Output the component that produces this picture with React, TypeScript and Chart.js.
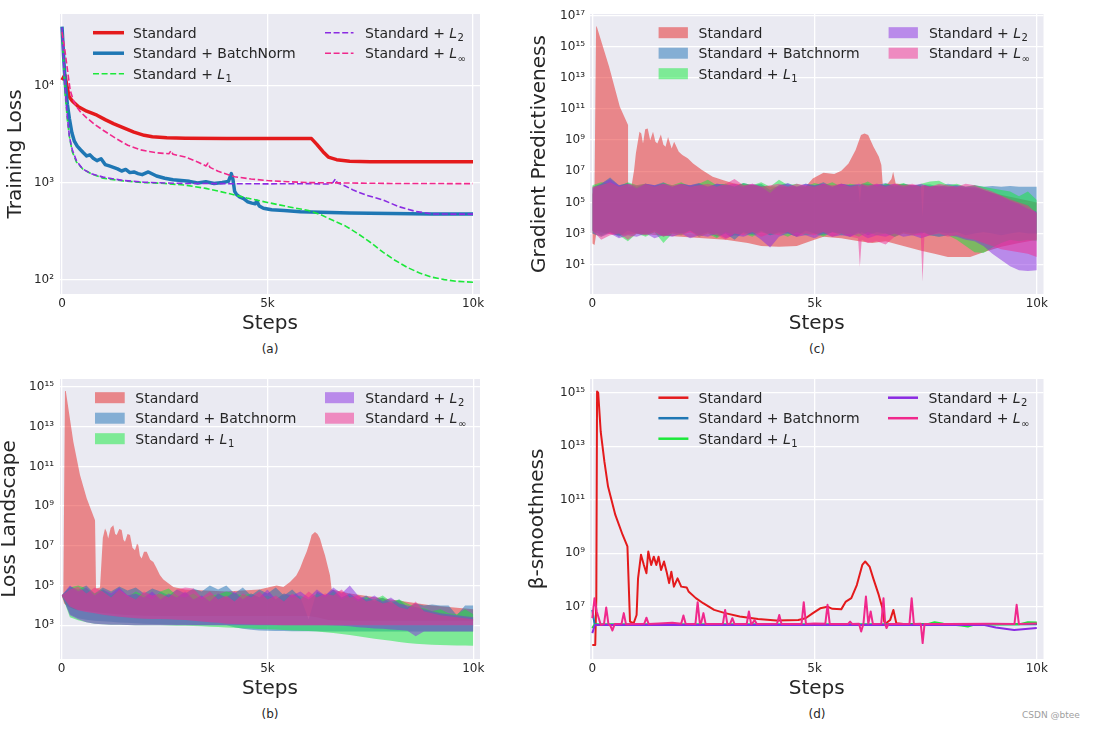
import React, { useEffect, useRef } from 'react';
import { Chart, registerables } from 'chart.js';

Chart.register(...registerables);

const FONT = '"DejaVu Sans", "Liberation Sans", sans-serif';
const INK = '#262626';

// ---------------- shared categories / styling ----------------
const xTickValues = [0, 5000, 10000];
const xTickLabels = ['0', '5k', '10k'];
const lossLabels = ['Standard', 'Standard + BatchNorm', 'Standard + L_1', 'Standard + L_2', 'Standard + L_∞'];
const bandLabels = ['Standard', 'Standard + Batchnorm', 'Standard + L_1', 'Standard + L_2', 'Standard + L_∞'];
const lineColors = ['#E41A1C', '#1F77B4', '#1CE83A', '#8A2BE2', '#F0288C'];
const bandColors = ['rgba(230,34,34,0.5)', 'rgba(30,114,182,0.5)', 'rgba(16,234,58,0.5)', 'rgba(136,42,226,0.5)', 'rgba(242,42,142,0.5)'];

// ---------------- (a) Training loss ----------------
const aStdSteps = [0, 70, 120, 170, 250, 400, 600, 850, 1050, 1250, 1500, 1750, 2000, 2200, 2550, 3000, 4000, 5000, 5800, 6070, 6200, 6350, 6480, 6680, 7000, 7500, 8500, 10000];
const aStdLoss = [11500, 13000, 10000, 7800, 7000, 6100, 5500, 5000, 4500, 4100, 3700, 3350, 3100, 3000, 2930, 2900, 2880, 2880, 2880, 2870, 2500, 2100, 1850, 1740, 1680, 1660, 1660, 1660];
const aBnSteps = [0, 40, 80, 130, 180, 240, 300, 370, 450, 520, 600, 680, 760, 850, 950, 1050, 1150, 1250, 1350, 1450, 1550, 1650, 1750, 1850, 1950, 2100, 2300, 2500, 2700, 2900, 3100, 3300, 3500, 3700, 3900, 4050, 4120, 4160, 4200, 4250, 4320, 4420, 4520, 4620, 4700, 4740, 4800, 4900, 5100, 5400, 5800, 6300, 7000, 8000, 9000, 10000];
const aBnLoss = [41000, 20000, 10500, 6500, 4600, 3300, 2700, 2400, 2200, 2050, 1900, 1950, 1800, 1700, 1780, 1550, 1500, 1450, 1400, 1330, 1380, 1280, 1300, 1250, 1220, 1300, 1180, 1120, 1080, 1060, 1040, 1000, 1030, 990, 1010, 1040, 1250, 1080, 820, 760, 720, 690, 640, 620, 610, 650, 580, 550, 530, 520, 505, 500, 490, 485, 480, 478];
const aL1Steps = [0, 40, 80, 130, 180, 250, 350, 500, 700, 1000, 1500, 2000, 2500, 3000, 3500, 4000, 4500, 5000, 5500, 6000, 6300, 6600, 6900, 7200, 7500, 7800, 8100, 8400, 8700, 9000, 9300, 9600, 10000];
const aL1Loss = [38000, 17000, 8000, 4500, 3000, 2100, 1650, 1400, 1250, 1120, 1050, 1010, 990, 950, 880, 790, 700, 630, 570, 520, 470, 410, 360, 300, 245, 195, 160, 135, 118, 107, 101, 97, 95];
const aL2Steps = [0, 40, 80, 130, 180, 250, 350, 500, 700, 1000, 1500, 2000, 2500, 3000, 4000, 5000, 6000, 6500, 6600, 6650, 6700, 6850, 7100, 7400, 7800, 8200, 8600, 9000, 9500, 10000];
const aL2Loss = [40000, 18000, 9000, 4800, 3000, 2200, 1700, 1400, 1250, 1150, 1060, 1020, 1000, 990, 985, 980, 985, 975, 1020, 1100, 1000, 950, 840, 750, 670, 570, 510, 480, 478, 478];
const aLinfSteps = [0, 60, 120, 200, 280, 370, 450, 600, 800, 1000, 1300, 1600, 1900, 2300, 2600, 2650, 2700, 3000, 3300, 3500, 3550, 3600, 3800, 4200, 4600, 5000, 5500, 6000, 7000, 8000, 10000];
const aLinfLoss = [36000, 25000, 16000, 9000, 7000, 6000, 5400, 4700, 4000, 3500, 2900, 2450, 2200, 2050, 2000, 2150, 1980, 1850, 1650, 1500, 1600, 1450, 1320, 1160, 1100, 1060, 1030, 1010, 1000, 990, 985];

// ---------------- shared step grid for noisy bands ----------------
const gridSteps = [0, 200, 400, 600, 800, 1000, 1200, 1400, 1600, 1800, 2000, 2200, 2400, 2600, 2800, 3000, 3200, 3400, 3600, 3800, 4000, 4200, 4400, 4600, 4800, 5000, 5200, 5400, 5600, 5800, 6000, 6200, 6400, 6600, 6800, 7000, 7200, 7400, 7600, 7800, 8000, 8200, 8400, 8600, 8800, 9000, 9200, 9400, 9600, 9800, 10000];

// ---------------- (b) Loss landscape (log10 of value) ----------------
const bStdUpperSteps = [0, 40, 80, 100, 283, 445, 607, 810, 834, 931, 1000, 1053, 1093, 1130, 1190, 1255, 1300, 1336, 1400, 1457, 1500, 1538, 1600, 1660, 1720, 1781, 1830, 1862, 1900, 1943, 2000, 2065, 2150, 2227, 2300, 2389, 2470, 2550, 2713, 3000, 4000, 4800, 5061, 5223, 5385, 5547, 5700, 5789, 5870, 5951, 6030, 6073, 6154, 6215, 6275, 6340, 6397, 6460, 6518, 6559, 7000, 8000, 9000, 10000];
const bStdUpperExp = [4.5, 4.6, 14.8, 14.8, 12.24, 10.56, 9.39, 8.29, 4.85, 4.9, 7.4, 7.87, 7.7, 7.37, 7.9, 8.04, 7.6, 7.54, 7.85, 7.79, 7.3, 7.2, 7.6, 7.54, 6.9, 6.78, 7.1, 7.03, 6.5, 6.36, 6.7, 6.7, 6.3, 6.19, 5.9, 5.52, 5.3, 5.18, 4.93, 4.8, 4.7, 4.8, 4.93, 5.0, 4.93, 5.18, 5.5, 5.86, 6.3, 6.7, 7.2, 7.54, 7.7, 7.6, 7.37, 6.9, 6.53, 6.0, 5.52, 4.8, 4.6, 4.3, 4.0, 3.8];
const bStdLowerSteps = [0, 60, 150, 300, 600, 1000, 1500, 2000, 2500, 6000, 6200, 6480, 7000, 10000];
const bStdLowerExp = [4.5, 4.1, 3.95, 3.8, 3.72, 3.62, 3.53, 3.48, 3.46, 3.46, 3.4, 3.27, 3.22, 3.22];
const bBnUpperExp = [4.5, 4.95, 4.8, 5.0, 4.6, 4.9, 4.7, 4.95, 4.75, 4.9, 4.6, 4.85, 4.7, 4.5, 4.8, 4.6, 4.85, 4.7, 5.0, 4.8, 5.0, 4.6, 4.9, 4.5, 4.8, 4.6, 4.9, 4.5, 4.8, 4.4, 3.3, 4.7, 4.5, 4.8, 4.4, 4.6, 4.3, 4.5, 4.2, 4.4, 4.1, 4.3, 3.9, 4.1, 4.0, 4.05, 4.0, 4.0, 3.5, 4.0, 4.0];
const bBnLowerExp = [4.5, 3.55, 3.35, 3.28, 3.23, 3.2, 3.17, 3.14, 3.12, 3.1, 3.08, 3.06, 3.05, 3.04, 3.03, 3.02, 3.01, 3.0, 3.0, 3.0, 3.0, 2.9, 2.82, 2.77, 2.74, 2.72, 2.71, 2.71, 2.7, 2.7, 2.7, 2.7, 2.69, 2.69, 2.69, 2.69, 2.69, 2.69, 2.69, 2.68, 2.68, 2.68, 2.68, 2.68, 2.68, 2.68, 2.68, 2.68, 2.68, 2.68, 2.68];
const bL1UpperExp = [4.5, 4.9, 5.0, 4.85, 4.6, 4.8, 4.5, 4.75, 4.4, 4.7, 4.5, 4.3, 4.7, 4.85, 4.5, 4.4, 4.6, 4.3, 4.5, 4.55, 4.7, 4.6, 4.5, 4.6, 4.4, 4.5, 4.3, 4.6, 4.4, 4.5, 4.3, 4.6, 4.4, 4.7, 4.3, 4.5, 4.2, 4.4, 4.3, 4.5, 4.2, 4.3, 4.1, 3.9, 3.85, 3.7, 3.8, 3.6, 3.55, 3.8, 3.55];
const bL1LowerExp = [4.55, 3.4, 3.25, 3.15, 3.08, 3.05, 3.03, 3.02, 3.01, 3.0, 3.0, 3.0, 3.0, 2.99, 2.98, 2.97, 2.96, 2.95, 2.93, 2.91, 2.89, 2.87, 2.85, 2.83, 2.81, 2.8, 2.78, 2.76, 2.74, 2.72, 2.71, 2.68, 2.65, 2.61, 2.56, 2.51, 2.44, 2.38, 2.32, 2.27, 2.22, 2.16, 2.11, 2.07, 2.04, 2.02, 2.0, 1.99, 1.98, 1.98, 1.97];
const bL2UpperExp = [4.5, 5.0, 4.7, 4.9, 4.5, 4.8, 4.6, 4.9, 4.5, 4.6, 4.4, 4.7, 4.3, 4.6, 4.4, 4.7, 4.3, 4.5, 4.2, 4.6, 4.4, 4.7, 4.3, 4.6, 4.4, 4.8, 4.3, 4.6, 4.5, 4.7, 4.4, 4.8, 4.5, 4.9, 4.6, 5.0, 4.5, 4.3, 4.5, 4.2, 4.4, 4.1, 4.0, 3.9, 3.8, 3.7, 3.6, 3.55, 3.5, 3.45, 3.4];
const bL2LowerExp = [4.55, 3.5, 3.3, 3.15, 3.08, 3.05, 3.03, 3.02, 3.01, 3.0, 3.0, 3.0, 3.0, 3.0, 3.0, 3.0, 3.0, 3.0, 3.0, 3.0, 3.0, 3.0, 3.0, 3.0, 3.0, 3.0, 3.0, 3.0, 3.0, 3.0, 3.0, 3.0, 3.0, 2.99, 2.98, 2.95, 2.9, 2.87, 2.84, 2.82, 2.79, 2.76, 2.72, 2.45, 2.69, 2.68, 2.68, 2.68, 2.68, 2.68, 2.68];
const bLinfUpperExp = [4.5, 4.8, 4.95, 4.6, 4.9, 4.7, 4.4, 4.8, 4.5, 4.3, 4.7, 4.5, 4.6, 4.4, 4.8, 4.9, 4.85, 4.4, 4.7, 4.3, 4.5, 4.2, 4.6, 4.4, 4.7, 4.3, 4.5, 4.2, 4.6, 4.3, 4.7, 4.4, 4.6, 4.5, 4.8, 4.4, 4.5, 4.2, 4.3, 4.1, 4.2, 3.9, 3.8, 4.2, 3.7, 3.6, 3.5, 3.45, 3.4, 3.35, 3.3];
const bLinfLowerExp = [4.5, 3.95, 3.75, 3.67, 3.6, 3.53, 3.48, 3.43, 3.39, 3.35, 3.33, 3.32, 3.31, 3.3, 3.28, 3.26, 3.22, 3.19, 3.15, 3.12, 3.08, 3.06, 3.05, 3.04, 3.03, 3.02, 3.01, 3.0, 3.0, 3.0, 3.0, 3.0, 3.0, 3.0, 3.0, 3.0, 3.0, 3.0, 3.0, 3.0, 3.0, 3.0, 3.0, 3.0, 3.0, 3.0, 3.0, 3.0, 3.0, 3.0, 3.0];

// ---------------- (c) Gradient predictiveness (log10 of value) ----------------
const cStdUpperSteps = [0, 50, 85, 110, 378, 619, 804, 820, 880, 940, 980, 1061, 1101, 1141, 1190, 1246, 1302, 1366, 1420, 1463, 1543, 1600, 1648, 1704, 1785, 1841, 1945, 2026, 2146, 2267, 2468, 2709, 2950, 3191, 3600, 4200, 4799, 4960, 5201, 5442, 5603, 5764, 5924, 6045, 6125, 6206, 6326, 6447, 6503, 6535, 6648, 6730, 6768, 6825, 7200, 8000, 8700, 9000, 9500, 10000];
const cStdUpperExp = [5.5, 6.0, 16.35, 16.2, 13.72, 11.15, 9.97, 6.0, 6.0, 7.08, 8.15, 9.54, 9.43, 8.79, 9.7, 9.75, 9.0, 9.54, 8.9, 8.79, 9.37, 8.7, 8.58, 9.2, 8.47, 8.9, 8.25, 8.04, 7.83, 7.5, 7.08, 6.65, 6.43, 6.22, 6.1, 6.0, 6.0, 6.54, 6.9, 6.82, 7.03, 7.5, 8.36, 9.33, 9.43, 9.33, 8.58, 7.93, 7.4, 6.11, 6.22, 6.5, 6.97, 6.22, 6.1, 6.0, 5.9, 5.6, 5.3, 5.0];
const cStdLowerSteps = [0, 50, 100, 300, 600, 1000, 1500, 2000, 2500, 3000, 3500, 3800, 4200, 4600, 4900, 5200, 5600, 6000, 6300, 6600, 7000, 7400, 7700, 8000, 8500, 8800, 9200, 9600, 10000];
const cStdLowerExp = [2.37, 2.26, 3.2, 3.0, 2.9, 3.0, 2.9, 2.8, 2.7, 2.6, 2.4, 2.2, 2.15, 2.2, 2.5, 2.8, 2.7, 2.5, 2.4, 2.5, 2.2, 1.9, 1.7, 1.5, 1.5, 1.8, 2.15, 2.4, 2.6];
const cSpikeSteps = [0, 200, 400, 600, 800, 1000, 1200, 1400, 1600, 1800, 2000, 2200, 2400, 2600, 2800, 3000, 3200, 3400, 3600, 3800, 4000, 4200, 4400, 4600, 4800, 5000, 5200, 5400, 5600, 5800, 5980, 6020, 6060, 6200, 6400, 6600, 6800, 7000, 7200, 7390, 7430, 7470, 7600, 7800, 8000, 8200, 8400, 8600, 8800, 9000, 9200, 9400, 9600, 9800, 10000];
const cBnUpperExp = [6.0, 6.2, 6.6, 6.1, 6.25, 6.0, 6.2, 6.1, 6.3, 6.0, 6.2, 6.1, 6.25, 6.0, 6.2, 6.15, 6.0, 6.25, 6.1, 6.2, 5.8, 6.1, 6.25, 6.0, 6.2, 6.1, 6.3, 6.0, 6.2, 6.1, 6.1, 5.0, 6.2, 6.2, 6.1, 6.25, 6.0, 6.2, 6.1, 6.1, 4.1, 6.15, 6.15, 6.0, 6.2, 6.1, 6.0, 6.1, 6.0, 6.05, 6.0, 6.05, 6.0, 6.0, 6.0];
const cBnLowerExp = [3.2, 2.9, 3.1, 2.8, 3.2, 3.0, 2.9, 3.2, 2.8, 3.1, 3.0, 3.2, 2.9, 3.1, 2.8, 3.0, 2.6, 3.1, 2.9, 3.2, 2.9, 3.1, 3.0, 2.8, 3.2, 3.0, 2.9, 3.1, 3.0, 2.8, 3.1, 3.0, 3.1, 2.9, 3.1, 3.0, 2.8, 3.1, 3.0, 3.0, 3.0, 3.1, 2.9, 3.1, 3.0, 3.1, 2.9, 3.0, 3.1, 3.0, 2.9, 3.0, 3.1, 3.0, 3.0];
const cL1UpperExp = [6.1, 6.3, 6.2, 6.0, 6.3, 6.1, 6.2, 6.0, 6.25, 6.1, 6.3, 6.0, 6.2, 6.45, 6.1, 6.2, 6.0, 6.25, 6.1, 6.3, 6.0, 6.45, 6.1, 6.2, 6.0, 6.25, 6.1, 6.3, 6.0, 6.2, 6.1, 6.35, 6.0, 6.2, 6.1, 6.25, 6.0, 6.2, 6.35, 6.4, 6.1, 6.2, 6.0, 6.1, 6.0, 5.9, 5.8, 5.7, 5.4, 5.7, 5.15];
const cL1LowerExp = [3.0, 2.8, 3.1, 2.9, 2.5, 3.0, 2.8, 3.1, 2.4, 3.0, 2.9, 3.2, 2.8, 3.0, 2.7, 3.1, 2.9, 3.0, 2.8, 3.1, 2.9, 3.0, 2.8, 3.1, 2.9, 3.0, 2.8, 3.1, 2.9, 3.0, 2.8, 3.1, 2.9, 3.0, 2.8, 3.0, 2.9, 3.1, 2.9, 2.8, 2.9, 2.6, 2.2, 1.8, 1.75, 2.1, 2.4, 2.6, 2.5, 2.6, 2.5];
const cL2UpperExp = [5.9, 6.2, 6.5, 6.1, 6.2, 5.9, 6.2, 6.1, 6.2, 6.0, 6.2, 6.1, 6.2, 6.0, 6.2, 6.1, 6.2, 6.0, 6.2, 6.0, 5.6, 6.1, 6.2, 6.0, 6.2, 6.1, 6.2, 6.0, 6.2, 6.1, 6.2, 6.0, 6.2, 6.1, 6.2, 6.0, 6.1, 6.2, 6.0, 6.1, 6.0, 6.1, 6.0, 6.0, 5.8, 5.6, 5.4, 5.1, 4.9, 4.6, 4.4];
const cL2LowerExp = [3.0, 2.8, 3.0, 2.7, 2.9, 2.8, 3.0, 2.7, 2.9, 2.8, 3.0, 2.7, 2.9, 2.8, 3.0, 2.7, 2.9, 2.8, 3.0, 2.6, 2.1, 2.8, 3.0, 2.8, 2.9, 2.7, 3.0, 2.8, 2.9, 2.8, 3.0, 2.7, 2.9, 2.8, 3.0, 2.8, 2.9, 2.7, 2.9, 2.8, 2.9, 2.8, 2.6, 2.5, 2.2, 1.7, 1.3, 0.9, 0.65, 0.6, 0.65];
const cLinfUpperExp = [6.0, 6.1, 6.3, 6.0, 6.2, 6.1, 6.2, 6.0, 6.2, 6.1, 6.2, 6.0, 6.1, 6.2, 6.0, 6.2, 6.5, 6.1, 6.2, 6.0, 6.1, 6.2, 6.0, 6.2, 6.1, 6.0, 6.2, 6.1, 6.2, 6.0, 6.1, 6.0, 6.2, 6.1, 6.2, 6.0, 6.2, 6.1, 6.2, 6.0, 6.1, 6.1, 6.0, 6.2, 6.1, 6.0, 6.2, 6.1, 5.9, 5.7, 5.45, 5.2, 5.0, 4.8, 4.3];
const cLinfLowerExp = [3.2, 2.6, 2.9, 3.0, 2.6, 3.0, 2.9, 3.1, 2.8, 3.0, 2.9, 3.1, 2.8, 3.0, 2.9, 2.6, 3.0, 2.9, 3.1, 2.8, 3.0, 2.9, 3.1, 2.8, 3.0, 2.9, 3.1, 2.8, 3.0, 2.8, 2.7, 0.87, 2.6, 2.4, 2.5, 2.3, 2.8, 3.0, 2.9, 2.9, -0.1, 2.8, 2.9, 3.0, 2.8, 2.9, 2.7, 2.6, 2.4, 2.2, 2.0, 1.9, 1.8, 1.7, 1.5];

// ---------------- (d) beta-smoothness (log10 of value) ----------------
const dStdSteps = [0, 66, 90, 107, 132, 189, 272, 354, 518, 683, 790, 848, 930, 996, 1029, 1095, 1160, 1218, 1259, 1325, 1383, 1440, 1490, 1547, 1613, 1671, 1728, 1778, 1835, 1918, 2000, 2123, 2165, 2329, 2494, 2741, 2988, 3317, 3728, 4140, 4634, 4798, 4963, 5128, 5292, 5400, 5600, 5704, 5827, 5951, 6074, 6140, 6238, 6321, 6444, 6527, 6568, 6609, 6700, 6774, 6840, 7000, 10000];
const dStdExp = [5.57, 5.57, 7.32, 15.04, 15.0, 13.54, 12.42, 11.49, 10.43, 9.68, 9.25, 6.44, 6.38, 6.69, 8.06, 8.94, 8.56, 8.25, 9.06, 8.56, 8.87, 8.56, 8.87, 8.37, 8.69, 8.31, 7.88, 8.31, 7.75, 8.06, 7.75, 7.72, 7.57, 7.32, 7.13, 6.88, 6.76, 6.63, 6.54, 6.48, 6.5, 6.57, 6.76, 6.94, 7.0, 6.92, 6.9, 7.19, 7.32, 7.81, 8.56, 8.69, 8.5, 8.06, 7.44, 6.94, 6.44, 6.38, 6.5, 6.88, 6.38, 6.35, 6.35];
const dBnSteps = [0, 50, 150, 5000, 10000];
const dBnExp = [6.88, 6.35, 6.33, 6.33, 6.34];
const dL1Steps = [0, 50, 7500, 7700, 7900, 8300, 8450, 8600, 9600, 9800, 10000];
const dL1Exp = [6.2, 6.33, 6.33, 6.42, 6.36, 6.3, 6.26, 6.33, 6.34, 6.42, 6.41];
const dL2Steps = [0, 60, 8800, 9078, 9490, 10000];
const dL2Exp = [6.01, 6.32, 6.32, 6.22, 6.13, 6.2];
const dLinfSteps = [0, 50, 100, 190, 263, 313, 363, 403, 453, 503, 658, 708, 758, 900, 1168, 1218, 1268, 1500, 1800, 2000, 2050, 2100, 2320, 2370, 2420, 2450, 2500, 2550, 2938, 2988, 3038, 3100, 3150, 3200, 3473, 3523, 3573, 3600, 3650, 3700, 4156, 4206, 4256, 4707, 4757, 4807, 5000, 5242, 5292, 5342, 5750, 5800, 5850, 6000, 6049, 6100, 6156, 6210, 6263, 6313, 6501, 6551, 6590, 6620, 6660, 7135, 7185, 7235, 7390, 7432, 7474, 8000, 9000, 9497, 9547, 9597, 10000];
const dLinfExp = [6.57, 7.32, 6.82, 6.32, 6.35, 6.97, 6.35, 6.3, 6.11, 6.35, 6.36, 6.76, 6.34, 6.35, 6.36, 6.59, 6.35, 6.37, 6.4, 6.36, 6.67, 6.36, 6.35, 7.17, 6.36, 6.4, 6.76, 6.35, 6.36, 6.88, 6.35, 6.36, 6.57, 6.35, 6.35, 6.82, 6.35, 6.37, 6.5, 6.35, 6.36, 6.69, 6.35, 6.35, 7.17, 6.35, 6.37, 6.36, 7.07, 6.35, 6.35, 6.44, 6.35, 6.36, 6.07, 6.36, 7.38, 6.36, 6.82, 6.35, 6.36, 7.32, 6.35, 6.2, 6.35, 6.35, 7.32, 6.35, 6.36, 5.64, 6.35, 6.35, 6.36, 6.35, 7.07, 6.35, 6.37];

// ---------------- helpers ----------------
type Pt = { x: number; y: number };
const toPts = (xs: number[], ys: number[]): Pt[] => xs.map((x, i) => ({ x, y: ys[i] }));
const toPtsExp = (xs: number[], es: number[]): Pt[] => xs.map((x, i) => ({ x, y: Math.pow(10, es[i]) }));

const SUP = '⁰¹²³⁴⁵⁶⁷⁸⁹';
const powLabel = (v: number) => {
  const e = Math.round(Math.log10(v));
  return '10' + String(e).split('').map((c) => (c === '-' ? '⁻' : SUP[Number(c)])).join('');
};

function lineSet(label: string, pts: Pt[], color: string, width: number, dash: number[], order: number) {
  return {
    label, data: pts, borderColor: color, borderWidth: width, borderDash: dash,
    pointRadius: 0, fill: false, order, borderJoinStyle: 'round', borderCapStyle: 'butt', tension: 0,
  };
}
function bandSets(label: string, upper: Pt[], lower: Pt[], color: string, order: number) {
  return [
    { label: label + ' (max)', data: upper, borderWidth: 0, pointRadius: 0, fill: false, order, tension: 0 },
    { label, data: lower, borderWidth: 0, pointRadius: 0, fill: '-1', backgroundColor: color, order, tension: 0 },
  ];
}

function drawLabel(ctx: CanvasRenderingContext2D, label: string, x: number, base: number) {
  ctx.fillStyle = INK;
  ctx.textAlign = 'left';
  ctx.textBaseline = 'alphabetic';
  const idx = label.indexOf('L_');
  const head = idx >= 0 ? label.slice(0, idx) : label;
  ctx.font = `14px ${FONT}`;
  ctx.fillText(head, x, base);
  if (idx < 0) return;
  x += ctx.measureText(head).width;
  ctx.font = `italic 14px ${FONT}`;
  ctx.fillText('L', x, base);
  x += ctx.measureText('L').width + 0.5;
  ctx.font = `10px ${FONT}`;
  ctx.fillText(label.slice(idx + 2), x, base + 3.2);
}

type Entry = { label: string; color: string; kind: 'line' | 'patch'; width?: number; dash?: number[] };
type LegendLayout = { cols: { h0: number; h1: number; tx: number }[]; rows: number[] };

function makeLegend(entries: Entry[], lay: LegendLayout) {
  return {
    id: 'mplLegend',
    afterDatasetsDraw(chart: any) {
      const { ctx, chartArea } = chart;
      ctx.save();
      entries.forEach((e, i) => {
        const col = lay.cols[i < 3 ? 0 : 1];
        const y = chartArea.top + lay.rows[i < 3 ? i : i - 3];
        const x0 = chartArea.left + col.h0;
        const x1 = chartArea.left + col.h1;
        if (e.kind === 'line') {
          ctx.strokeStyle = e.color;
          ctx.lineWidth = e.width || 2;
          ctx.setLineDash(e.dash || []);
          ctx.lineCap = 'butt';
          ctx.beginPath();
          ctx.moveTo(x0, y);
          ctx.lineTo(x1, y);
          ctx.stroke();
          ctx.setLineDash([]);
        } else {
          ctx.fillStyle = e.color;
          ctx.fillRect(x0, y - 5.5, x1 - x0, 11);
        }
        drawLabel(ctx, e.label, chartArea.left + col.tx, y + 5.1);
      });
      ctx.restore();
    },
  };
}

const bgPlugin = {
  id: 'plotBg',
  beforeDraw(chart: any) {
    const { ctx, chartArea } = chart;
    if (!chartArea) return;
    ctx.save();
    ctx.fillStyle = '#EAEAF2';
    ctx.fillRect(chartArea.left, chartArea.top, chartArea.right - chartArea.left, chartArea.bottom - chartArea.top);
    ctx.restore();
  },
};

type PanelCfg = {
  left: number; top: number; w: number; h: number; padRight: number; yAxisWidth: number;
  xMin: number; xMax: number; yExpRange: [number, number]; yTicks: number[];
  yTitle: string; yTitlePad: number; yTickPad: number;
  datasets: any[]; legend: Entry[]; legendLayout: LegendLayout;
};

function buildConfig(cfg: PanelCfg): any {
  return {
    type: 'line',
    data: { datasets: cfg.datasets },
    options: {
      animation: false,
      responsive: false,
      maintainAspectRatio: false,
      events: [],
      layout: { padding: { left: 0, top: 14, right: cfg.padRight, bottom: 0 } },
      plugins: { legend: { display: false }, tooltip: { enabled: false } },
      scales: {
        x: {
          type: 'linear', min: cfg.xMin, max: cfg.xMax,
          afterBuildTicks: (s: any) => { s.ticks = xTickValues.map((v) => ({ value: v })); },
          afterFit: (s: any) => { s.height = 46; },
          ticks: {
            autoSkip: false, maxRotation: 0, padding: 3, color: INK, font: { family: FONT, size: 12 },
            callback: (v: any) => { const i = xTickValues.indexOf(Number(v)); return i >= 0 ? xTickLabels[i] : ''; },
          },
          grid: { color: '#FFFFFF', lineWidth: 1.3, drawTicks: false },
          border: { display: false },
          title: { display: true, text: 'Steps', color: INK, font: { family: FONT, size: 20, lineHeight: 1.2 }, padding: { top: 0, bottom: 4 } },
        },
        y: {
          type: 'logarithmic', min: Math.pow(10, cfg.yExpRange[0]), max: Math.pow(10, cfg.yExpRange[1]),
          afterBuildTicks: (s: any) => { s.ticks = cfg.yTicks.map((v) => ({ value: v })); },
          afterFit: (s: any) => { s.width = cfg.yAxisWidth; },
          ticks: {
            autoSkip: false, padding: cfg.yTickPad, color: INK, font: { family: FONT, size: 12 },
            callback: (v: any) => powLabel(Number(v)),
          },
          grid: { color: '#FFFFFF', lineWidth: 1.3, drawTicks: false },
          border: { display: false },
          title: { display: true, text: cfg.yTitle, color: INK, font: { family: FONT, size: 20, lineHeight: 1 }, padding: { top: cfg.yTitlePad, bottom: 0 } },
        },
      },
    },
    plugins: [bgPlugin, makeLegend(cfg.legend, cfg.legendLayout)],
  };
}

// ---------------- panel definitions ----------------
const legendRows = [18.7, 39.2, 59.7];
const dashed = [6, 2.6];

const panelA: PanelCfg = {
  left: 0, top: 0, w: 520, h: 340, padRight: 40, yAxisWidth: 60,
  xMin: -49, xMax: 10170, yExpRange: [1.856, 4.742], yTicks: [1e2, 1e3, 1e4],
  yTitle: 'Training Loss', yTitlePad: 6, yTickPad: 6,
  datasets: [
    lineSet(lossLabels[0], toPts(aStdSteps, aStdLoss), lineColors[0], 3.5, [], 4),
    lineSet(lossLabels[1], toPts(aBnSteps, aBnLoss), lineColors[1], 3.5, [], 3),
    lineSet(lossLabels[2], toPts(aL1Steps, aL1Loss), lineColors[2], 1.6, dashed, 2),
    lineSet(lossLabels[3], toPts(aL2Steps, aL2Loss), lineColors[3], 1.6, dashed, 1),
    lineSet(lossLabels[4], toPts(aLinfSteps, aLinfLoss), lineColors[4], 1.6, dashed, 0),
  ],
  legend: lossLabels.map((l, i) => ({ label: l, color: lineColors[i], kind: 'line' as const, width: i < 2 ? 3.5 : 1.6, dash: i < 2 ? [] : dashed })),
  legendLayout: { cols: [{ h0: 33, h1: 64, tx: 73 }, { h0: 265, h1: 293.5, tx: 305 }], rows: legendRows },
};

const panelB: PanelCfg = {
  left: 0, top: 365, w: 520, h: 340, padRight: 40, yAxisWidth: 60,
  xMin: -41, xMax: 10163, yExpRange: [1.3, 15.4], yTicks: [1e3, 1e5, 1e7, 1e9, 1e11, 1e13, 1e15],
  yTitle: 'Loss Landscape', yTitlePad: 0, yTickPad: 6,
  datasets: [
    ...bandSets(bandLabels[0], toPtsExp(bStdUpperSteps, bStdUpperExp), toPtsExp(bStdLowerSteps, bStdLowerExp), bandColors[0], 4),
    ...bandSets(bandLabels[1], toPtsExp(gridSteps, bBnUpperExp), toPtsExp(gridSteps, bBnLowerExp), bandColors[1], 3),
    ...bandSets(bandLabels[2], toPtsExp(gridSteps, bL1UpperExp), toPtsExp(gridSteps, bL1LowerExp), bandColors[2], 2),
    ...bandSets(bandLabels[3], toPtsExp(gridSteps, bL2UpperExp), toPtsExp(gridSteps, bL2LowerExp), bandColors[3], 1),
    ...bandSets(bandLabels[4], toPtsExp(gridSteps, bLinfUpperExp), toPtsExp(gridSteps, bLinfLowerExp), bandColors[4], 0),
  ],
  legend: bandLabels.map((l, i) => ({ label: l, color: bandColors[i], kind: 'patch' as const })),
  legendLayout: { cols: [{ h0: 35, h1: 64.7, tx: 75.3 }, { h0: 265, h1: 294, tx: 305.3 }], rows: legendRows },
};

const panelC: PanelCfg = {
  left: 520, top: 0, w: 574, h: 340, padRight: 50.5, yAxisWidth: 70,
  xMin: -52, xMax: 10151, yExpRange: [-0.88, 17.1], yTicks: [1e1, 1e3, 1e5, 1e7, 1e9, 1e11, 1e13, 1e15, 1e17],
  yTitle: 'Gradient Predictiveness', yTitlePad: 10, yTickPad: 5,
  datasets: [
    ...bandSets(bandLabels[0], toPtsExp(cStdUpperSteps, cStdUpperExp), toPtsExp(cStdLowerSteps, cStdLowerExp), bandColors[0], 4),
    ...bandSets(bandLabels[1], toPtsExp(cSpikeSteps, cBnUpperExp), toPtsExp(cSpikeSteps, cBnLowerExp), bandColors[1], 3),
    ...bandSets(bandLabels[2], toPtsExp(gridSteps, cL1UpperExp), toPtsExp(gridSteps, cL1LowerExp), bandColors[2], 2),
    ...bandSets(bandLabels[3], toPtsExp(gridSteps, cL2UpperExp), toPtsExp(gridSteps, cL2LowerExp), bandColors[3], 1),
    ...bandSets(bandLabels[4], toPtsExp(cSpikeSteps, cLinfUpperExp), toPtsExp(cSpikeSteps, cLinfLowerExp), bandColors[4], 0),
  ],
  legend: bandLabels.map((l, i) => ({ label: l, color: bandColors[i], kind: 'patch' as const })),
  legendLayout: { cols: [{ h0: 68.6, h1: 97.9, tx: 108.6 }, { h0: 298.6, h1: 327.9, tx: 338.9 }], rows: legendRows },
};

const panelD: PanelCfg = {
  left: 520, top: 365, w: 574, h: 340, padRight: 50.5, yAxisWidth: 70,
  xMin: -52, xMax: 10151, yExpRange: [5.045, 15.51], yTicks: [1e7, 1e9, 1e11, 1e13, 1e15],
  yTitle: 'β-smoothness', yTitlePad: 8, yTickPad: 5,
  datasets: [
    lineSet(bandLabels[0], toPtsExp(dStdSteps, dStdExp), lineColors[0], 2, [], 4),
    lineSet(bandLabels[1], toPtsExp(dBnSteps, dBnExp), lineColors[1], 2, [], 3),
    lineSet(bandLabels[2], toPtsExp(dL1Steps, dL1Exp), lineColors[2], 2, [], 2),
    lineSet(bandLabels[3], toPtsExp(dL2Steps, dL2Exp), lineColors[3], 2, [], 1),
    lineSet(bandLabels[4], toPtsExp(dLinfSteps, dLinfExp), lineColors[4], 2, [], 0),
  ],
  legend: bandLabels.map((l, i) => ({ label: l, color: lineColors[i], kind: 'line' as const, width: 2.5, dash: [] })),
  legendLayout: { cols: [{ h0: 68.4, h1: 98.4, tx: 108.6 }, { h0: 298, h1: 328, tx: 338.5 }], rows: legendRows },
};

const captions = [
  { text: '(a)', x: 270, y: 349 },
  { text: '(b)', x: 270, y: 714 },
  { text: '(c)', x: 817, y: 349 },
  { text: '(d)', x: 817, y: 714 },
];

function Panel({ cfg }: { cfg: PanelCfg }) {
  const ref = useRef<HTMLCanvasElement>(null);
  useEffect(() => {
    const chart = new Chart(ref.current as HTMLCanvasElement, buildConfig(cfg));
    return () => chart.destroy();
  }, [cfg]);
  return (
    <canvas
      ref={ref}
      width={cfg.w}
      height={cfg.h}
      style={{ position: 'absolute', left: cfg.left, top: cfg.top, width: cfg.w, height: cfg.h }}
    />
  );
}

export default function App() {
  return (
    <div style={{ position: 'absolute', left: 0, top: 0, width: 1094, height: 730, background: '#FFFFFF', overflow: 'hidden', fontFamily: FONT }}>
      <Panel cfg={panelA} />
      <Panel cfg={panelC} />
      <Panel cfg={panelB} />
      <Panel cfg={panelD} />
      {captions.map((c) => (
        <div key={c.text} style={{ position: 'absolute', left: c.x - 20, top: c.y - 7, width: 40, textAlign: 'center', fontSize: 12, lineHeight: '14px', color: INK }}>
          {c.text}
        </div>
      ))}
      <div style={{ position: 'absolute', left: 1022, top: 709, fontSize: 9, lineHeight: '12px', color: '#A0A0A0', whiteSpace: 'nowrap' }}>CSDN @btee</div>
    </div>
  );
}
